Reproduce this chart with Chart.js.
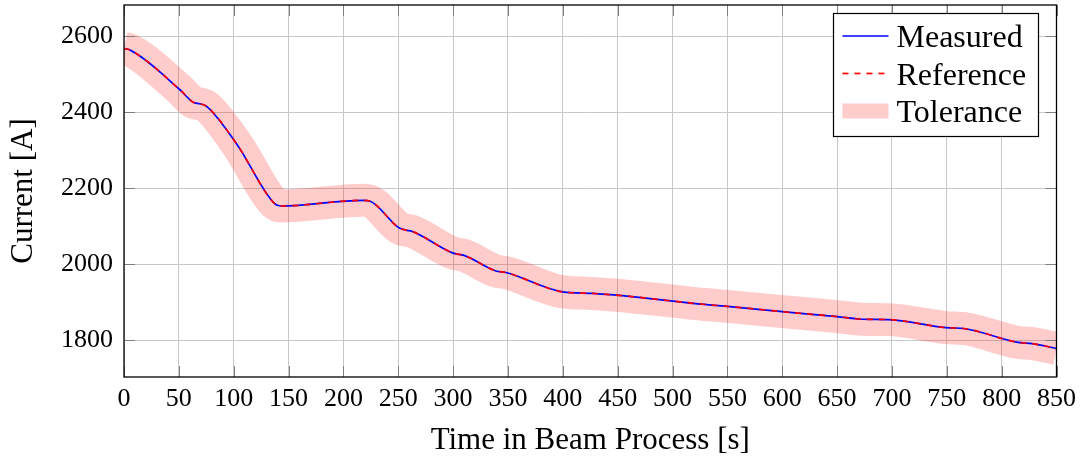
<!DOCTYPE html>
<html>
<head>
<meta charset="utf-8">
<script src="https://cdn.jsdelivr.net/npm/chart.js@4.4.1/dist/chart.umd.min.js"></script>
<style>
    body { margin: 0; background: #fff; }
    canvas { display: block; }
</style>
</head>
<body>
<canvas id="beam" width="1083" height="459"></canvas>
<script>
// values (time in s, current in A)
const time_s = [0, 5, 51, 63, 69, 75, 103, 137, 143, 218, 224, 251, 258, 262, 300, 310, 339, 348, 400, 427, 533, 550, 600, 650, 673, 697, 749, 767, 815, 828, 850];
const measured = [2567, 2564, 2459, 2426, 2422, 2416, 2315, 2160, 2153, 2168, 2166, 2095, 2089, 2087, 2029, 2023, 1982, 1978, 1927, 1923, 1893, 1889, 1875, 1862, 1855, 1854, 1833, 1830, 1794, 1791, 1778];
// reference lies right on top of the measured curve
const reference = [2567, 2564, 2459, 2426, 2422, 2416, 2315, 2160, 2153, 2168, 2166, 2095, 2089, 2087, 2029, 2023, 1982, 1978, 1927, 1923, 1893, 1889, 1875, 1862, 1855, 1854, 1833, 1830, 1794, 1791, 1778];

const xTicks = [0, 50, 100, 150, 200, 250, 300, 350, 400, 450, 500, 550, 600, 650, 700, 750, 800, 850];
const yTicks = [1800, 2000, 2200, 2400, 2600];
const legendOrder = ["Measured", "Reference", "Tolerance"];

const serif = "'Liberation Serif', 'Times New Roman', serif";
Chart.defaults.font.family = serif;
Chart.defaults.color = "#000";

function toPoints(ys){
    return time_s.map((t, i) => ({x: t, y: ys[i]}));
}

// frame, inward ticks and the boxed legend (pgfplots style)
const frameAndLegend = {
    id: "frameAndLegend",
    afterDraw(chart){
        const ctx = chart.ctx;
        const a = chart.chartArea;
        const xs = chart.scales.x, ys = chart.scales.y;
        ctx.save();

        ctx.strokeStyle = "#7f7f7f";
        ctx.lineWidth = 1;
        ctx.beginPath();
        xTicks.forEach(v => {
            const px = Math.round(xs.getPixelForValue(v)) + 0.5;
            ctx.moveTo(px, a.bottom); ctx.lineTo(px, a.bottom - 11);
            ctx.moveTo(px, a.top); ctx.lineTo(px, a.top + 11);
        });
        yTicks.forEach(v => {
            const py = Math.round(ys.getPixelForValue(v)) + 0.5;
            ctx.moveTo(a.left, py); ctx.lineTo(a.left + 11, py);
            ctx.moveTo(a.right, py); ctx.lineTo(a.right - 11, py);
        });
        ctx.stroke();

        ctx.strokeStyle = "#000";
        ctx.lineWidth = 1.3;
        ctx.strokeRect(a.left, a.top, a.right - a.left, a.bottom - a.top);

        // legend box
        const bw = 205, bh = 123;
        const bx = Math.round(a.right - 19 - bw) + 0.5;
        const by = Math.round(a.top + 8) + 0.5;
        ctx.fillStyle = "#fff";
        ctx.fillRect(bx, by, bw, bh);
        ctx.strokeStyle = "#000";
        ctx.lineWidth = 1.2;
        ctx.strokeRect(bx, by, bw, bh);

        ctx.font = "32px " + serif;
        ctx.textBaseline = "alphabetic";
        ctx.textAlign = "left";
        legendOrder.forEach((name, i) => {
            const ds = chart.data.datasets.find(d => d.label == name);
            const my = by + 22.5 + i * 37.5;
            ctx.beginPath();
            ctx.strokeStyle = name == "Tolerance" ? "#ffcccc" : ds.borderColor;
            ctx.lineWidth = name == "Tolerance" ? 15 : ds.borderWidth;
            ctx.setLineDash(ds.borderDash || []);
            ctx.lineCap = "butt";
            ctx.moveTo(bx + 9, my);
            ctx.lineTo(bx + 55, my);
            ctx.stroke();
            ctx.setLineDash([]);
            ctx.fillStyle = "#000";
            ctx.fillText(name, bx + 63, my + 11);
        });
        ctx.restore();
    }
};

const ctx = document.getElementById("beam");

const beam = new Chart(ctx, {
    type: "line",
    data: {
        datasets: [
            {
                label: "Reference",
                data: toPoints(reference),
                borderColor: "#ff0000",
                borderWidth: 1.7,
                borderDash: [6, 6],
                pointRadius: 0,
                cubicInterpolationMode: "monotone",
                fill: false
            },
            {
                label: "Measured",
                data: toPoints(measured),
                borderColor: "#0000ff",
                borderWidth: 1.7,
                pointRadius: 0,
                cubicInterpolationMode: "monotone",
                fill: false
            },
            {
                label: "Tolerance",
                data: toPoints(reference),
                borderColor: "rgba(255, 0, 0, 0.2)",
                borderWidth: 33,
                borderJoinStyle: "round",
                borderCapStyle: "butt",
                pointRadius: 0,
                cubicInterpolationMode: "monotone",
                clip: 0,
                fill: false
            }
        ]
    },
    options: {
        responsive: false,
        animation: false,
        layout: {
            padding: {left: 0, top: 5, right: 26, bottom: 0}
        },
        plugins: {
            legend: {display: false},
            tooltip: {enabled: false}
        },
        scales: {
            x: {
                type: "linear",
                min: 0,
                max: 850,
                afterBuildTicks: s => { s.ticks = xTicks.map(v => ({value: v})) },
                afterFit: s => { s.height = 82 },
                grid: {color: "#c8c8c8", lineWidth: 1, drawTicks: false},
                border: {display: false},
                ticks: {
                    font: {size: 26},
                    padding: 7,
                    maxRotation: 0,
                    autoSkip: false,
                    callback: v => String(v)
                },
                title: {
                    display: true,
                    text: "Time in Beam Process [s]",
                    font: {size: 31},
                    padding: {top: 0, bottom: 0}
                }
            },
            y: {
                type: "linear",
                min: 1703,
                max: 2682,
                afterBuildTicks: s => { s.ticks = yTicks.map(v => ({value: v})) },
                afterFit: s => {
                    s.width = 124
                    s.paddingTop = 0
                    s.paddingBottom = 0
                },
                grid: {color: "#c8c8c8", lineWidth: 1, drawTicks: false},
                border: {display: false},
                ticks: {
                    font: {size: 26},
                    padding: 11,
                    callback: v => String(v)
                },
                title: {
                    display: true,
                    text: "Current [A]",
                    font: {size: 31},
                    padding: {top: 5, bottom: 0}
                }
            }
        }
    },
    plugins: [frameAndLegend]
});
</script>
</body>
</html>
